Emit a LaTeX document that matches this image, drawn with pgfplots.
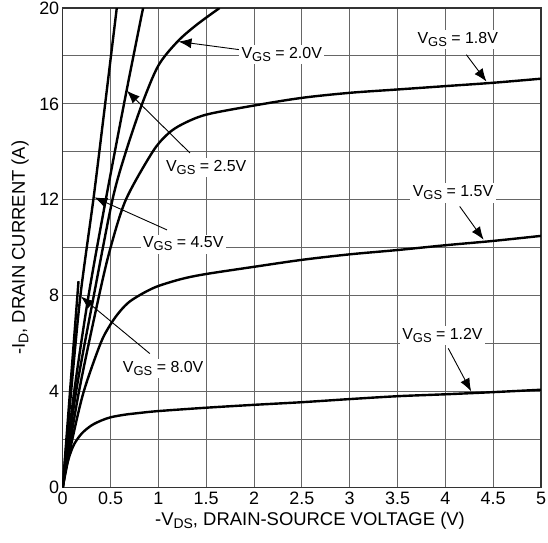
\documentclass[border=0pt]{standalone}
\usepackage{fontspec}
\setmainfont{Liberation Sans}
\usepackage{pgfplots}
\pgfplotsset{compat=1.18}
\usetikzlibrary{arrows.meta}

\newcommand{\vgs}[1]{V\raisebox{-0.35ex}{\fontsize{13}{13}\selectfont GS} = #1V}

\begin{document}
\begin{tikzpicture}
\begin{axis}[
  scale only axis, width=478bp, height=479bp,
  xmin=0, xmax=5, ymin=0, ymax=20,
  xtick={0,0.5,...,5}, xticklabels={0,0.5,1,1.5,2,2.5,3,3.5,4,4.5,5},
  ytick={0,4,...,20}, yticklabels={0,4,8,12,16,20},
  minor ytick={2,6,...,18},
  grid=both,
  major grid style={black!60, line width=1bp},
  minor grid style={black!60, line width=1bp},
  major tick length=0pt, minor tick length=0pt,
  axis line style={black!80, line width=1.2bp},
  tick label style={font=\fontsize{18}{18}\selectfont},
  xticklabel style={yshift=-1bp},
  label style={font=\fontsize{18.5}{18.5}\selectfont},
  xlabel={-V\raisebox{-0.35ex}{\fontsize{14}{14}\selectfont DS}, DRAIN-SOURCE VOLTAGE (V)},
  ylabel={-I\raisebox{-0.35ex}{\fontsize{14}{14}\selectfont D}, DRAIN CURRENT (A)},
  xlabel style={at={(axis description cs:0.517,-0.069)}, anchor=center},
  ylabel style={at={(axis description cs:-0.089,0.5)}, anchor=center},
  curve/.style={black, line width=2.4bp, smooth, tension=0.5, mark=none},
]
% V_GS = 8.0 V
\addplot[curve] coordinates {(0,0) (0.08,4.2) (0.165,8.6)};
% V_GS = 4.5 V
\addplot[curve] coordinates {(0,0) (0.09,4.1) (0.185,8) (0.32,12) (0.41,14.9) (0.565,20)};
% V_GS = 2.5 V
\addplot[curve] coordinates {(0,0) (0.12,4) (0.27,8) (0.45,12) (0.66,16.4) (0.84,20)};
% V_GS = 2.0 V
\addplot[curve] coordinates {(0,0) (0.14,4) (0.325,8) (0.52,12) (0.66,14) (0.83,16) (1.0,17.6) (1.2,18.6) (1.4,19.3) (1.64,20)};
% V_GS = 1.8 V
\addplot[curve] coordinates {(0,0) (0.17,4) (0.38,8) (0.5,10) (0.66,12) (0.94,14) (1.1,14.75) (1.25,15.15) (1.5,15.55) (2,15.93) (2.5,16.25) (3,16.46) (3.5,16.6) (4,16.74) (4.5,16.88) (5,17.05)};
% V_GS = 1.5 V
\addplot[curve] coordinates {(0,0) (0.1,2) (0.22,4) (0.395,6) (0.5,6.8) (0.6,7.35) (0.7,7.75) (0.85,8.12) (1.0,8.4) (1.25,8.7) (1.5,8.9) (2,9.2) (2.5,9.49) (3,9.72) (3.5,9.9) (4,10.1) (4.5,10.28) (5,10.49)};
% V_GS = 1.2 V
\addplot[curve] coordinates {(0,0) (0.03,0.7) (0.07,1.3) (0.12,1.8) (0.2,2.25) (0.3,2.58) (0.4,2.78) (0.5,2.92) (0.65,3.03) (0.8,3.1) (1,3.18) (1.5,3.32) (2,3.44) (2.5,3.55) (3,3.68) (3.5,3.8) (4,3.88) (4.5,3.97) (5,4.07)};

% annotations
\tikzset{ann/.style={line width=0.9bp, -{Latex[length=13bp, width=10bp]}},
         lab/.style={fill=white, inner sep=2.5bp, font=\fontsize{16}{16}\selectfont}}
\draw[ann] (axis cs:1.85,18.26) -- (axis cs:1.21,18.6);
\node[lab] at (axis cs:2.29,18.05) {\vgs{2.0}};
\draw[ann] (axis cs:4.22,18.05) -- (axis cs:4.43,16.93);
\node[lab] at (axis cs:4.13,18.68) {\vgs{1.8}};
\draw[ann] (axis cs:1.33,13.95) -- (axis cs:0.67,16.55);
\node[lab] at (axis cs:1.50,13.33) {\vgs{2.5}};
\draw[ann] (axis cs:1.09,10.74) -- (axis cs:0.33,12.1);
\node[lab] at (axis cs:1.26,10.15) {\vgs{4.5}};
\draw[ann] (axis cs:4.15,11.72) -- (axis cs:4.40,10.33);
\node[lab] at (axis cs:4.08,12.28) {\vgs{1.5}};
\draw[ann] (axis cs:4.03,5.80) -- (axis cs:4.27,4.0);
\node[lab] at (axis cs:3.97,6.32) {\vgs{1.2}};
\draw[ann] (axis cs:0.91,5.58) -- (axis cs:0.19,7.96);
\node[lab] at (axis cs:1.05,4.97) {\vgs{8.0}};
\end{axis}
\pgfresetboundingbox
\path ([shift={(-62.7bp,-55.3bp)}]current axis.south west) rectangle ([shift={(7bp,8bp)}]current axis.north east);
\end{tikzpicture}
\end{document}
